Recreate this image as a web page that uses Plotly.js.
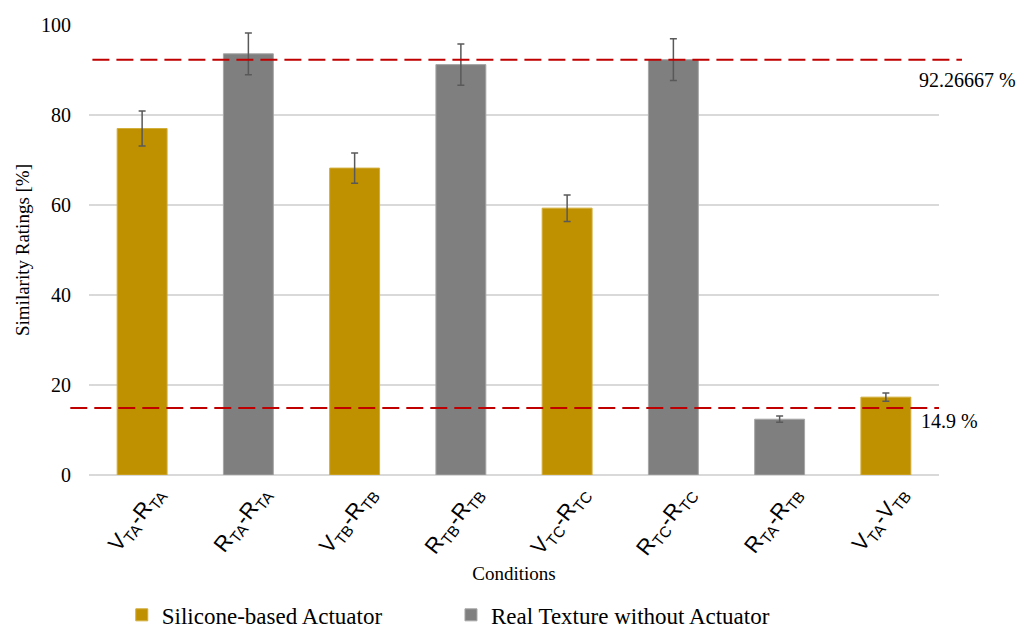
<!DOCTYPE html>
<html>
<head>
<meta charset="utf-8">
<script src="https://cdn.plot.ly/plotly-3.0.1.min.js"></script>
<style>
  html, body { margin: 0; padding: 0; background: #ffffff; }
  #chart { width: 1032px; height: 630px; }
</style>
</head>
<body>
<div id="chart"></div>
<script>
// Condition pairs (category keys) and their subscripted tick labels
const conditions = ['VTA-RTA', 'RTA-RTA', 'VTB-RTB', 'RTB-RTB', 'VTC-RTC', 'RTC-RTC', 'RTA-RTB', 'VTA-VTB'];
const tickLabels = [
  'V<sub>TA</sub>-R<sub>TA</sub>',
  'R<sub>TA</sub>-R<sub>TA</sub>',
  'V<sub>TB</sub>-R<sub>TB</sub>',
  'R<sub>TB</sub>-R<sub>TB</sub>',
  'V<sub>TC</sub>-R<sub>TC</sub>',
  'R<sub>TC</sub>-R<sub>TC</sub>',
  'R<sub>TA</sub>-R<sub>TB</sub>',
  'V<sub>TA</sub>-V<sub>TB</sub>'
];

// Mean similarity rating [%] and error per condition
const meanRatings = [77.0, 93.6, 68.2, 91.2, 59.3, 92.3, 12.4, 17.3];
const ratingErrors = [3.9, 4.65, 3.35, 4.6, 2.95, 4.65, 0.7, 0.9];

// Stimulus source for each condition
const sourceGroup = ['silicone', 'real', 'silicone', 'real', 'silicone', 'real', 'real', 'silicone'];
const groupNames = { silicone: 'Silicone-based Actuator', real: 'Real Texture without Actuator' };
const groupColors = { silicone: '#BF9000', real: '#7F7F7F' };
const groupEdges = { silicone: '#D2AE3A', real: '#A6A6A6' };
const groupLegend = { silicone: 'legend', real: 'legend2' };

// Reference levels drawn as dashed lines
const refValues = [92.26667, 14.9];
const refLabels = ['92.26667 %', '14.9 %'];

const serif = '"Liberation Serif", "Times New Roman", serif';
const sans = '"Liberation Sans", Arial, sans-serif';

function groupTrace(key) {
  const idx = conditions.map((c, i) => i).filter(i => sourceGroup[i] === key);
  return {
    type: 'bar',
    name: groupNames[key],
    legend: groupLegend[key],
    x: idx.map(i => conditions[i]),
    y: idx.map(i => meanRatings[i]),
    width: 0.47,
    marker: { color: groupColors[key], line: { color: groupEdges[key], width: 1 } },
    error_y: {
      type: 'data',
      array: idx.map(i => ratingErrors[i]),
      visible: true,
      color: '#595959',
      thickness: 1.5,
      width: 3.5
    },
    hoverinfo: 'x+y'
  };
}

const traces = [groupTrace('silicone'), groupTrace('real')];

const shapes = [
  { type: 'line', xref: 'paper', yref: 'y', x0: 0.004, x1: 1.027, y0: refValues[0], y1: refValues[0],
    line: { color: '#C00000', width: 2, dash: '17px,7px' } },
  { type: 'line', xref: 'paper', yref: 'y', x0: -0.022, x1: 1.0, y0: refValues[1], y1: refValues[1],
    line: { color: '#C00000', width: 2, dash: '17px,7px' } }
];

const annotations = [
  { xref: 'paper', yref: 'y', x: 0.974, y: refValues[0], yshift: -20, xanchor: 'left', yanchor: 'middle',
    text: refLabels[0], showarrow: false, font: { family: serif, size: 20, color: '#000000' } },
  { xref: 'paper', yref: 'y', x: 0.976, y: refValues[1], yshift: -13, xanchor: 'left', yanchor: 'middle',
    text: refLabels[1], showarrow: false, font: { family: serif, size: 20, color: '#000000' } }
];

function legendBox(xPos) {
  return {
    orientation: 'h',
    xref: 'container',
    yref: 'container',
    x: xPos,
    xanchor: 'left',
    y: 0.024,
    yanchor: 'middle',
    bgcolor: 'rgba(0,0,0,0)',
    font: { family: serif, size: 23, color: '#000000' }
  };
}

const layout = {
  width: 1032,
  height: 630,
  margin: { l: 89, r: 93, t: 25, b: 155, autoexpand: false },
  paper_bgcolor: '#ffffff',
  plot_bgcolor: '#ffffff',
  barmode: 'overlay',
  showlegend: true,
  legend: legendBox(0.118),
  legend2: legendBox(0.437),
  xaxis: {
    type: 'category',
    categoryorder: 'array',
    categoryarray: conditions,
    tickvals: conditions,
    ticktext: tickLabels,
    tickangle: -52,
    ticklabelshift: 14,
    tickfont: { family: sans, size: 22, color: '#000000' },
    showgrid: false,
    showline: false,
    ticks: '',
    automargin: false,
    title: { text: 'Conditions', font: { family: serif, size: 19, color: '#000000' }, standoff: 6 }
  },
  yaxis: {
    range: [0, 100],
    tickvals: [0, 20, 40, 60, 80, 100],
    tickfont: { family: serif, size: 20, color: '#000000' },
    ticklabelstandoff: 17,
    showgrid: true,
    gridcolor: '#D9D9D9',
    gridwidth: 1.5,
    zeroline: true,
    zerolinecolor: '#D9D9D9',
    zerolinewidth: 1.5,
    showline: false,
    ticks: '',
    automargin: false,
    title: { text: 'Similarity Ratings [%]', font: { family: serif, size: 19, color: '#000000' }, standoff: 6 }
  },
  shapes: shapes,
  annotations: annotations
};

Plotly.newPlot('chart', traces, layout, { displayModeBar: false, staticPlot: true });
</script>
</body>
</html>
